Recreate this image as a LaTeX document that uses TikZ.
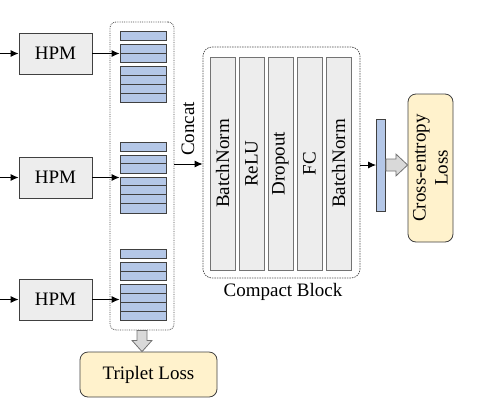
\documentclass[tikz,border=0pt]{standalone}
\usepackage{fontspec}
\setmainfont{Liberation Serif}
\usetikzlibrary{arrows.meta,calc}
\definecolor{stripblue}{HTML}{B4C7E7}
\definecolor{boxgray}{HTML}{EDEDED}
\definecolor{lossyellow}{HTML}{FFF2CC}
\definecolor{edgedark}{HTML}{404040}
\definecolor{fatgray}{HTML}{D9D9D9}
\begin{document}
\begin{tikzpicture}[x=1pt,y=-1pt,
  font=\fontsize{19}{21.5}\selectfont,
  hpm/.style={draw=edgedark,fill=boxgray,line width=0.8pt,minimum width=73pt,minimum height=41pt,inner sep=0pt},
  strip/.style={draw=edgedark,fill=stripblue,line width=0.8pt,minimum width=46pt,inner sep=0pt},
  layer/.style={draw=black!55,fill=boxgray,line width=0.8pt,minimum width=25pt,minimum height=213pt,inner sep=0pt},
  loss/.style={draw=edgedark,fill=lossyellow,line width=0.8pt,rounded corners=8pt,inner sep=0pt},
  conn/.style={-{Latex[length=8pt,width=7pt]},line width=1pt},
  fat/.style={draw=black!55,fill=fatgray,line width=0.8pt},
  ]
\useasboundingbox (0,0) rectangle (487,413);

% HPM boxes
\node[hpm] (h1) at (55.5,53.5) {HPM};
\node[hpm] (h2) at (55.5,177.5) {HPM};
\node[hpm] (h3) at (55.5,299.5) {HPM};
\coordinate (i1) at (0,53.5);
\coordinate (i2) at (0,177.5);
\coordinate (i3) at (0,299.5);
\foreach \k in {1,2,3} \draw[conn] (i\k) -- (h\k);

% container
\node[draw=black!70,densely dotted,line width=0.8pt,rounded corners=6pt,minimum width=64pt,minimum height=308pt,inner sep=0pt] (cont) at (142,176) {};

% strip groups
\foreach \g/\t in {1/31,2/141.7,3/249}{
  \node[strip,minimum height=9pt,anchor=north] (a\g) at (143,\t) {};
  \node[strip,minimum height=18pt,anchor=north] (b\g) at (143,\t+13) {};
  \draw[edgedark,line width=0.8pt] (120,\t+22) -- (166,\t+22);
  \node[strip,minimum height=36pt,anchor=north] (c\g) at (143,\t+35) {};
  \foreach \d in {44,53,62} \draw[edgedark,line width=0.8pt] (120,\t+\d) -- (166,\t+\d);
}
\draw[conn] (h1) -- (h1 -| b1.west);
\draw[conn] (h2) -- (h2 -| c2.west);
\draw[conn] (h3) -- (h3 -| c3.west);

% compact block
\node[draw=black!70,dash pattern=on 1.5pt off 1pt,line width=0.7pt,rounded corners=9pt,minimum width=157pt,minimum height=231pt,inner sep=0pt] (cb) at (281.5,162.5) {};
\node (cbl) at (283,292) {Compact Block};
\foreach \i/\t [count=\n] in {0/BatchNorm,1/ReLU,2/Dropout,3/FC,4/BatchNorm}{
  \node[layer] (l\n) at (222.5+29*\i,163.5) {};
  \node[rotate=90] at (l\n) {\t};
}

% concat
\coordinate (cs) at (cont.east |- 0,164);
\draw[conn] (cs) -- (cs -| cb.west);
\node[rotate=90] (cc) at (188,129) {Concat};

% embedding bar
\node[draw=edgedark,fill=stripblue,line width=0.8pt,minimum width=9pt,minimum height=92pt,inner sep=0pt] (emb) at (381,165) {};
\draw[conn] (cb.east |- emb) -- (emb);

% cross entropy loss
\node[loss,minimum width=45pt,minimum height=148pt] (ce) at (430.5,168) {};
\node[rotate=90,align=center,font=\fontsize{19}{22}\selectfont] at (ce) {Cross-entropy\\Loss};
\draw[fat] (emb.east |- 0,159) -- ++(10,0) -- ++(0,-5) -- (ce.west |- emb) -- ($(emb.east |- 0,176)+(10,0)$) -- ++(0,-5) -- (emb.east |- 0,171) -- cycle;

% triplet loss
\node[loss,minimum width=137pt,minimum height=45pt] (tl) at (148.5,374.5) {Triplet Loss};
\draw[fat] ($(cont.south)+(-5,0)$) -- ++(0,10) -- ++(-5,0) -- (cont.south |- tl.north) -- ($(cont.south)+(10,10)$) -- ++(-5,0) -- ++(0,-10) -- cycle;
\end{tikzpicture}
\end{document}
